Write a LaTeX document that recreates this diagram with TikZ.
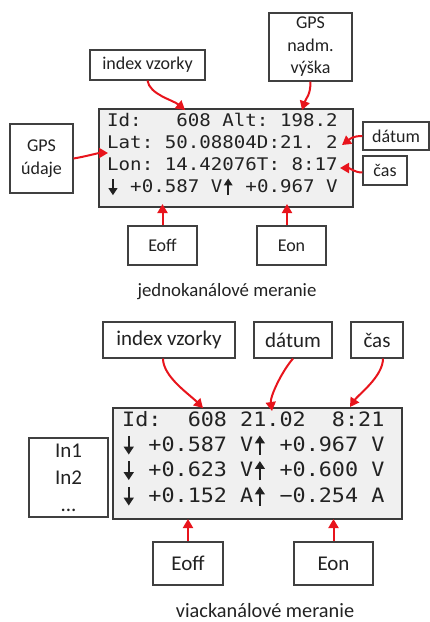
\documentclass[tikz,border=0pt]{standalone}
\usepackage{fontspec}
\setmainfont{Carlito}
\newfontfamily\lcdfont[FakeStretch=1.1]{DejaVu Sans Mono}
\usetikzlibrary{arrows.meta}
\definecolor{arr}{HTML}{E8141C}
\definecolor{lcdbg}{HTML}{F0F0F0}
\definecolor{lcdline}{HTML}{3A3A3A}
\definecolor{boxline}{HTML}{404040}
\definecolor{txt}{HTML}{222222}
\newcommand{\lsp}{\hphantom{0}}
\newcommand{\lcdarrow}[2]{\makebox[0pt][l]{\hbox to 0.662em{\hss\tikz[baseline=0pt,x=1em,y=1em]\draw[line width=0.085em,-{Triangle[length=0.4em,width=0.5em]}] (0,#1)--(0,#2);\hss}}\lsp}
\newcommand{\dnarr}{\lcdarrow{0.78}{-0.16}}
\newcommand{\uparr}{\lcdarrow{-0.16}{0.8}}
\begin{document}
\begin{tikzpicture}[x=1pt,y=-1pt,
 lbl/.style={draw=boxline,line width=1.1pt,fill=white,inner sep=0pt,align=center,font=\fontsize{18}{22.5}\selectfont,text=txt},
 lbltwo/.style={lbl,font=\fontsize{21}{27}\selectfont},
 lcd/.style={draw=lcdline,line width=1.8pt,fill=lcdbg,inner sep=0pt},
 rowa/.style={anchor=mid west,inner sep=0pt,font=\lcdfont\fontsize{17.4}{20}\selectfont,text=txt},
 rowb/.style={anchor=mid west,inner sep=0pt,font=\lcdfont\fontsize{19.8}{23}\selectfont,text=txt},
 redarr/.style={draw=arr,line width=2pt,-{Triangle[length=9pt,width=10pt]}},
 caption/.style={inner sep=0pt,text=txt}
]
\path[use as bounding box] (0,0) rectangle (430,622);

% ---------- upper part ----------
\node[lcd,minimum width=254pt,minimum height=98pt] (lcd1) at (226,158) {};
\node[rowa] (r11) at (107,124) {Id:\lsp\lsp\lsp 608\lsp Alt:\lsp 198.2};
\node[rowa] (r12) at (107,146) {Lat:\lsp 50.08804D:21.\lsp 2};
\node[rowa] (r13) at (107,168) {Lon:\lsp 14.42076T:\lsp 8:17};
\node[rowa] (r14) at (107,190) {\dnarr\lsp +0.587\lsp V\uparr\lsp +0.967\lsp V};

\node[lbl,minimum width=115pt,minimum height=30pt] (ivz1) at (147.5,65) {index vzorky};
\node[lbl,minimum width=83pt,minimum height=68pt] (alt1) at (310.5,47) {GPS\\nadm.\\výška};
\node[lbl,minimum width=63pt,minimum height=69pt] (gps1) at (41.5,158.5) {GPS\\údaje};
\node[lbl,minimum width=66pt,minimum height=28pt] (dat1) at (396,136) {dátum};
\node[lbl,minimum width=44pt,minimum height=29pt] (cas1) at (385,170.5) {čas};
\node[lbl,minimum width=69pt,minimum height=39pt] (eoff1) at (162.5,245.5) {Eoff};
\node[lbl,minimum width=69pt,minimum height=39pt] (eon1) at (291.5,245.5) {Eon};
\node[caption,font=\fontsize{18.8}{22}\selectfont] (cap1) at (227,292) {jednokanálové meranie};

\coordinate (t608a) at (185,110);
\coordinate (talt) at (302,110);
\coordinate (tlat) at (108,153);
\coordinate (tdat1) at (342,145);
\coordinate (tcas1) at (340,168);
\coordinate (teoff1) at (162.5,204);
\coordinate (teon1) at (287,204);

\draw[redarr] (ivz1.south) .. controls +(2,14) and +(-12,-10) .. (t608a);
\draw[redarr] (alt1.south) .. controls +(0,14) and +(4,-12) .. (talt);
\draw[redarr] (gps1.east) .. controls +(12,-2) and +(-10,0) .. (tlat);
\draw[redarr] (dat1.west) .. controls +(-10,0) and +(8,-6) .. (tdat1);
\draw[redarr] ([yshift=-2pt]cas1.west) .. controls +(-8,0) and +(10,0) .. (tcas1);
\draw[redarr] (eoff1.north) -- (teoff1);
\draw[redarr] (eon1.north -| teon1) -- (teon1);

% ---------- lower part ----------
\node[lcd,minimum width=289pt,minimum height=111pt] (lcd2) at (257.5,463.5) {};
\node[rowb] (r21) at (122,424) {Id:\lsp\lsp 608\lsp 21.02\lsp\lsp 8:21};
\node[rowb] (r22) at (122,449) {\dnarr\lsp +0.587\lsp V\uparr\lsp +0.967\lsp V};
\node[rowb] (r23) at (122,474.5) {\dnarr\lsp +0.623\lsp V\uparr\lsp +0.600\lsp V};
\node[rowb] (r24) at (122,500) {\dnarr\lsp +0.152\lsp A\uparr\lsp −0.254\lsp A};

\node[lbltwo,minimum width=132pt,minimum height=36pt] (ivz2) at (169,340) {index vzorky};
\node[lbltwo,minimum width=78pt,minimum height=36pt] (dat2) at (293,340) {dátum};
\node[lbltwo,minimum width=52pt,minimum height=36pt] (cas2) at (377,340) {čas};
\node[lbltwo,minimum width=79pt,minimum height=79pt] (in2) at (68.5,477.5) {In1\\In2\\...};
\node[lbltwo,minimum width=70pt,minimum height=43pt] (eoff2) at (188,563.5) {Eoff};
\node[lbltwo,minimum width=79pt,minimum height=43pt] (eon2) at (333.5,563.5) {Eon};
\node[caption,font=\fontsize{20.3}{24}\selectfont] (cap2) at (265,611) {viackanálové meranie};

\coordinate (t608b) at (203,408);
\coordinate (tdat2) at (272,411);
\coordinate (tcas2) at (350,407);
\coordinate (teoff2) at (188,519);
\coordinate (teon2) at (333.5,519);

\draw[redarr] ([xshift=-6pt]ivz2.south) .. controls +(0,18) and +(-14,-14) .. (t608b);
\draw[redarr] (dat2.south) .. controls +(-12,14) and +(-2,-14) .. (tdat2);
\draw[redarr] ([xshift=6pt]cas2.south) .. controls +(0,18) and +(8,-12) .. (tcas2);
\draw[redarr] (eoff2.north) -- (teoff2);
\draw[redarr] (eon2.north) -- (teon2);
\end{tikzpicture}
\end{document}
